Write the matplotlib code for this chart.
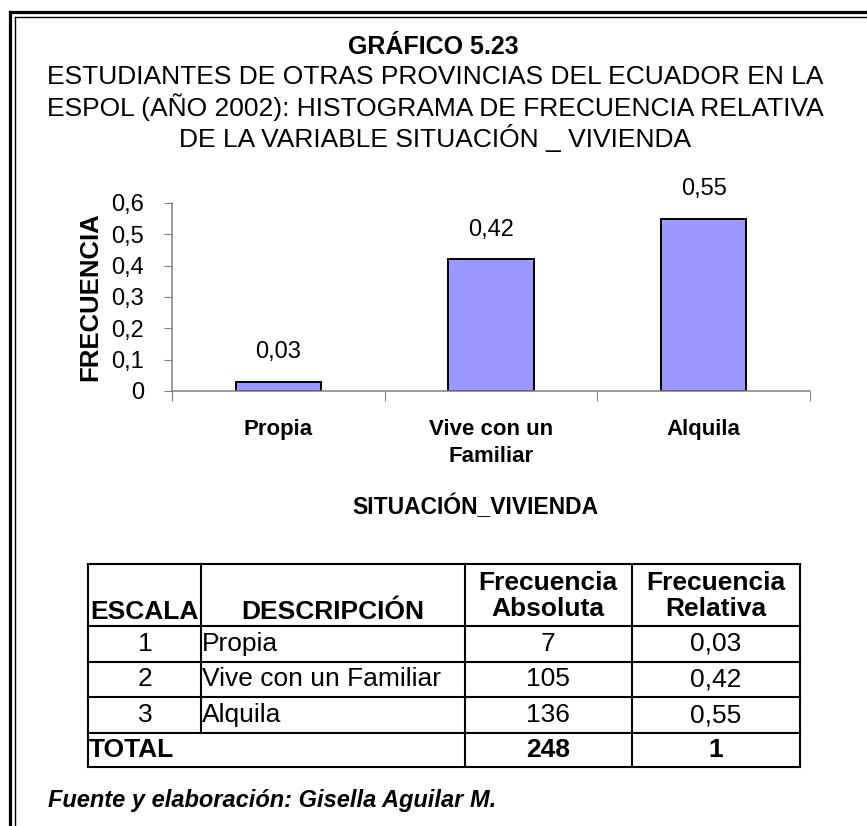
import matplotlib
matplotlib.use("Agg")
import matplotlib.pyplot as plt
from matplotlib.lines import Line2D

# data
categorias = ["Propia", "Vive con un\nFamiliar", "Alquila"]
frecuencia_relativa = [0.03, 0.42, 0.55]
y_ticks = [0, 0.1, 0.2, 0.3, 0.4, 0.5, 0.6]

escala = [1, 2, 3]
descripcion = ["Propia", "Vive con un Familiar", "Alquila"]
frecuencia_absoluta = [7, 105, 136]
total_absoluta = 248
total_relativa = 1

W, H = 867, 826
FONT = "Liberation Sans"


def fx(x):
    return x / W


def fy(y):
    return 1 - y / H


def coma(v, nd=2):
    if v == int(v):
        return str(int(v))
    return f"{v:.{nd}f}".replace(".", ",")


fig = plt.figure(figsize=(W / 100, H / 100), dpi=100, facecolor="white")

# double border (left and top only, continues off the page)
for x, y, lw in [(9.5, 11.5, 3.2), (15, 17, 1.4)]:
    fig.add_artist(Line2D([fx(x), fx(x)], [fy(y), 0], color="black", lw=lw * 0.72))
    fig.add_artist(Line2D([fx(x), 1], [fy(y), fy(y)], color="black", lw=lw * 0.72))

# titles
fig.text(0.5, fy(47), "GRÁFICO 5.23", ha="center", va="center",
         fontsize=18, fontweight="bold", family=FONT)
titulo = ["ESTUDIANTES DE OTRAS PROVINCIAS DEL ECUADOR EN LA",
          "ESPOL (AÑO 2002): HISTOGRAMA DE FRECUENCIA RELATIVA",
          "DE LA VARIABLE SITUACIÓN _ VIVIENDA"]
for i, t in enumerate(titulo):
    fig.text(fx(435), fy(77 + 30.5 * i), t, ha="center", va="center",
             fontsize=19, family=FONT)

# bar chart
ax = fig.add_axes([fx(172), fy(391), fx(810) - fx(172), fy(203) - fy(391)])
x = list(range(len(categorias)))
bars = ax.bar(x, frecuencia_relativa, width=0.4, color="#9999FF",
              edgecolor="black", linewidth=1.4)
for b, v in zip(bars, frecuencia_relativa):
    ax.annotate(coma(v), (b.get_x() + b.get_width() / 2, v),
                xytext=(0, 21.5), textcoords="offset points",
                ha="center", va="center", fontsize=17, family=FONT)

ax.set_xlim(-0.5, len(categorias) - 0.5)
ax.set_ylim(0, 0.6)
ax.set_yticks(y_ticks)
ax.set_yticklabels([coma(t, 1) for t in y_ticks], fontsize=17, family=FONT)
ax.set_xticks([i - 0.5 for i in range(len(categorias) + 1)])
ax.set_xticklabels([])
ax.set_xticks(x, minor=True)
ax.set_xticklabels(categorias, minor=True, fontsize=16, fontweight="bold",
                   family=FONT, va="top", linespacing=1.4)
ax.tick_params(axis="x", which="minor", length=0, pad=20)
ax.tick_params(axis="x", which="major", length=7, color="#808080", direction="out")
ax.tick_params(axis="y", length=6, color="#808080", pad=14)
for s in ["top", "right"]:
    ax.spines[s].set_visible(False)
for s in ["left", "bottom"]:
    ax.spines[s].set_color("#808080")
    ax.spines[s].set_linewidth(1.1)

fig.text(fx(90), fy(297), "FRECUENCIA", rotation=90, ha="center", va="center",
         fontsize=18.5, fontweight="bold", family=FONT)
fig.text(fx(475), fy(507), "SITUACIÓN_VIVIENDA", ha="center", va="center",
         fontsize=16.5, fontweight="bold", family=FONT)

# table
cols = [88, 201, 465, 632, 800]
rows = [564, 626, 662, 697, 733, 767]
lw_t = 1.5
for yy in rows:
    fig.add_artist(Line2D([fx(cols[0]), fx(cols[-1])], [fy(yy), fy(yy)],
                          color="black", lw=lw_t))
for xx in cols:
    y0 = rows[-2] if xx == cols[1] else rows[-1]
    fig.add_artist(Line2D([fx(xx), fx(xx)], [fy(rows[0]), fy(y0)],
                          color="black", lw=lw_t))

TS = 19
fig.text(fx(144), fy(612), "ESCALA", ha="center", va="center", fontsize=TS,
         fontweight="bold", family=FONT)
fig.text(fx(333), fy(612), "DESCRIPCIÓN", ha="center", va="center", fontsize=TS,
         fontweight="bold", family=FONT)
fig.text(fx(548), fy(596), "Frecuencia\nAbsoluta", ha="center", va="center",
         fontsize=TS, fontweight="bold", family=FONT, linespacing=1.1)
fig.text(fx(716), fy(596), "Frecuencia\nRelativa", ha="center", va="center",
         fontsize=TS, fontweight="bold", family=FONT, linespacing=1.1)

for i in range(len(escala)):
    yc = fy((rows[i + 1] + rows[i + 2]) / 2)
    fig.text(fx(145), yc, str(escala[i]), ha="center", va="center",
             fontsize=TS, family=FONT)
    fig.text(fx(202), yc, descripcion[i], ha="left", va="center",
             fontsize=TS, family=FONT)
    fig.text(fx(548), yc, str(frecuencia_absoluta[i]), ha="center",
             va="center", fontsize=TS, family=FONT)
    fig.text(fx(716), yc, coma(frecuencia_relativa[i]), ha="center",
             va="center", fontsize=TS, family=FONT)

yc = fy((rows[-2] + rows[-1]) / 2)
fig.text(fx(89), yc, "TOTAL", ha="left", va="center", fontsize=TS,
         fontweight="bold", family=FONT)
fig.text(fx(548), yc, str(total_absoluta), ha="center", va="center",
         fontsize=TS, fontweight="bold", family=FONT)
fig.text(fx(716), yc, coma(total_relativa), ha="center", va="center",
         fontsize=TS, fontweight="bold", family=FONT)

fig.text(fx(48), fy(801), "Fuente y elaboración: Gisella Aguilar M.",
         ha="left", va="center", fontsize=17, fontweight="bold",
         style="italic", family=FONT)

fig.savefig("out.png", dpi=100, facecolor="white")
